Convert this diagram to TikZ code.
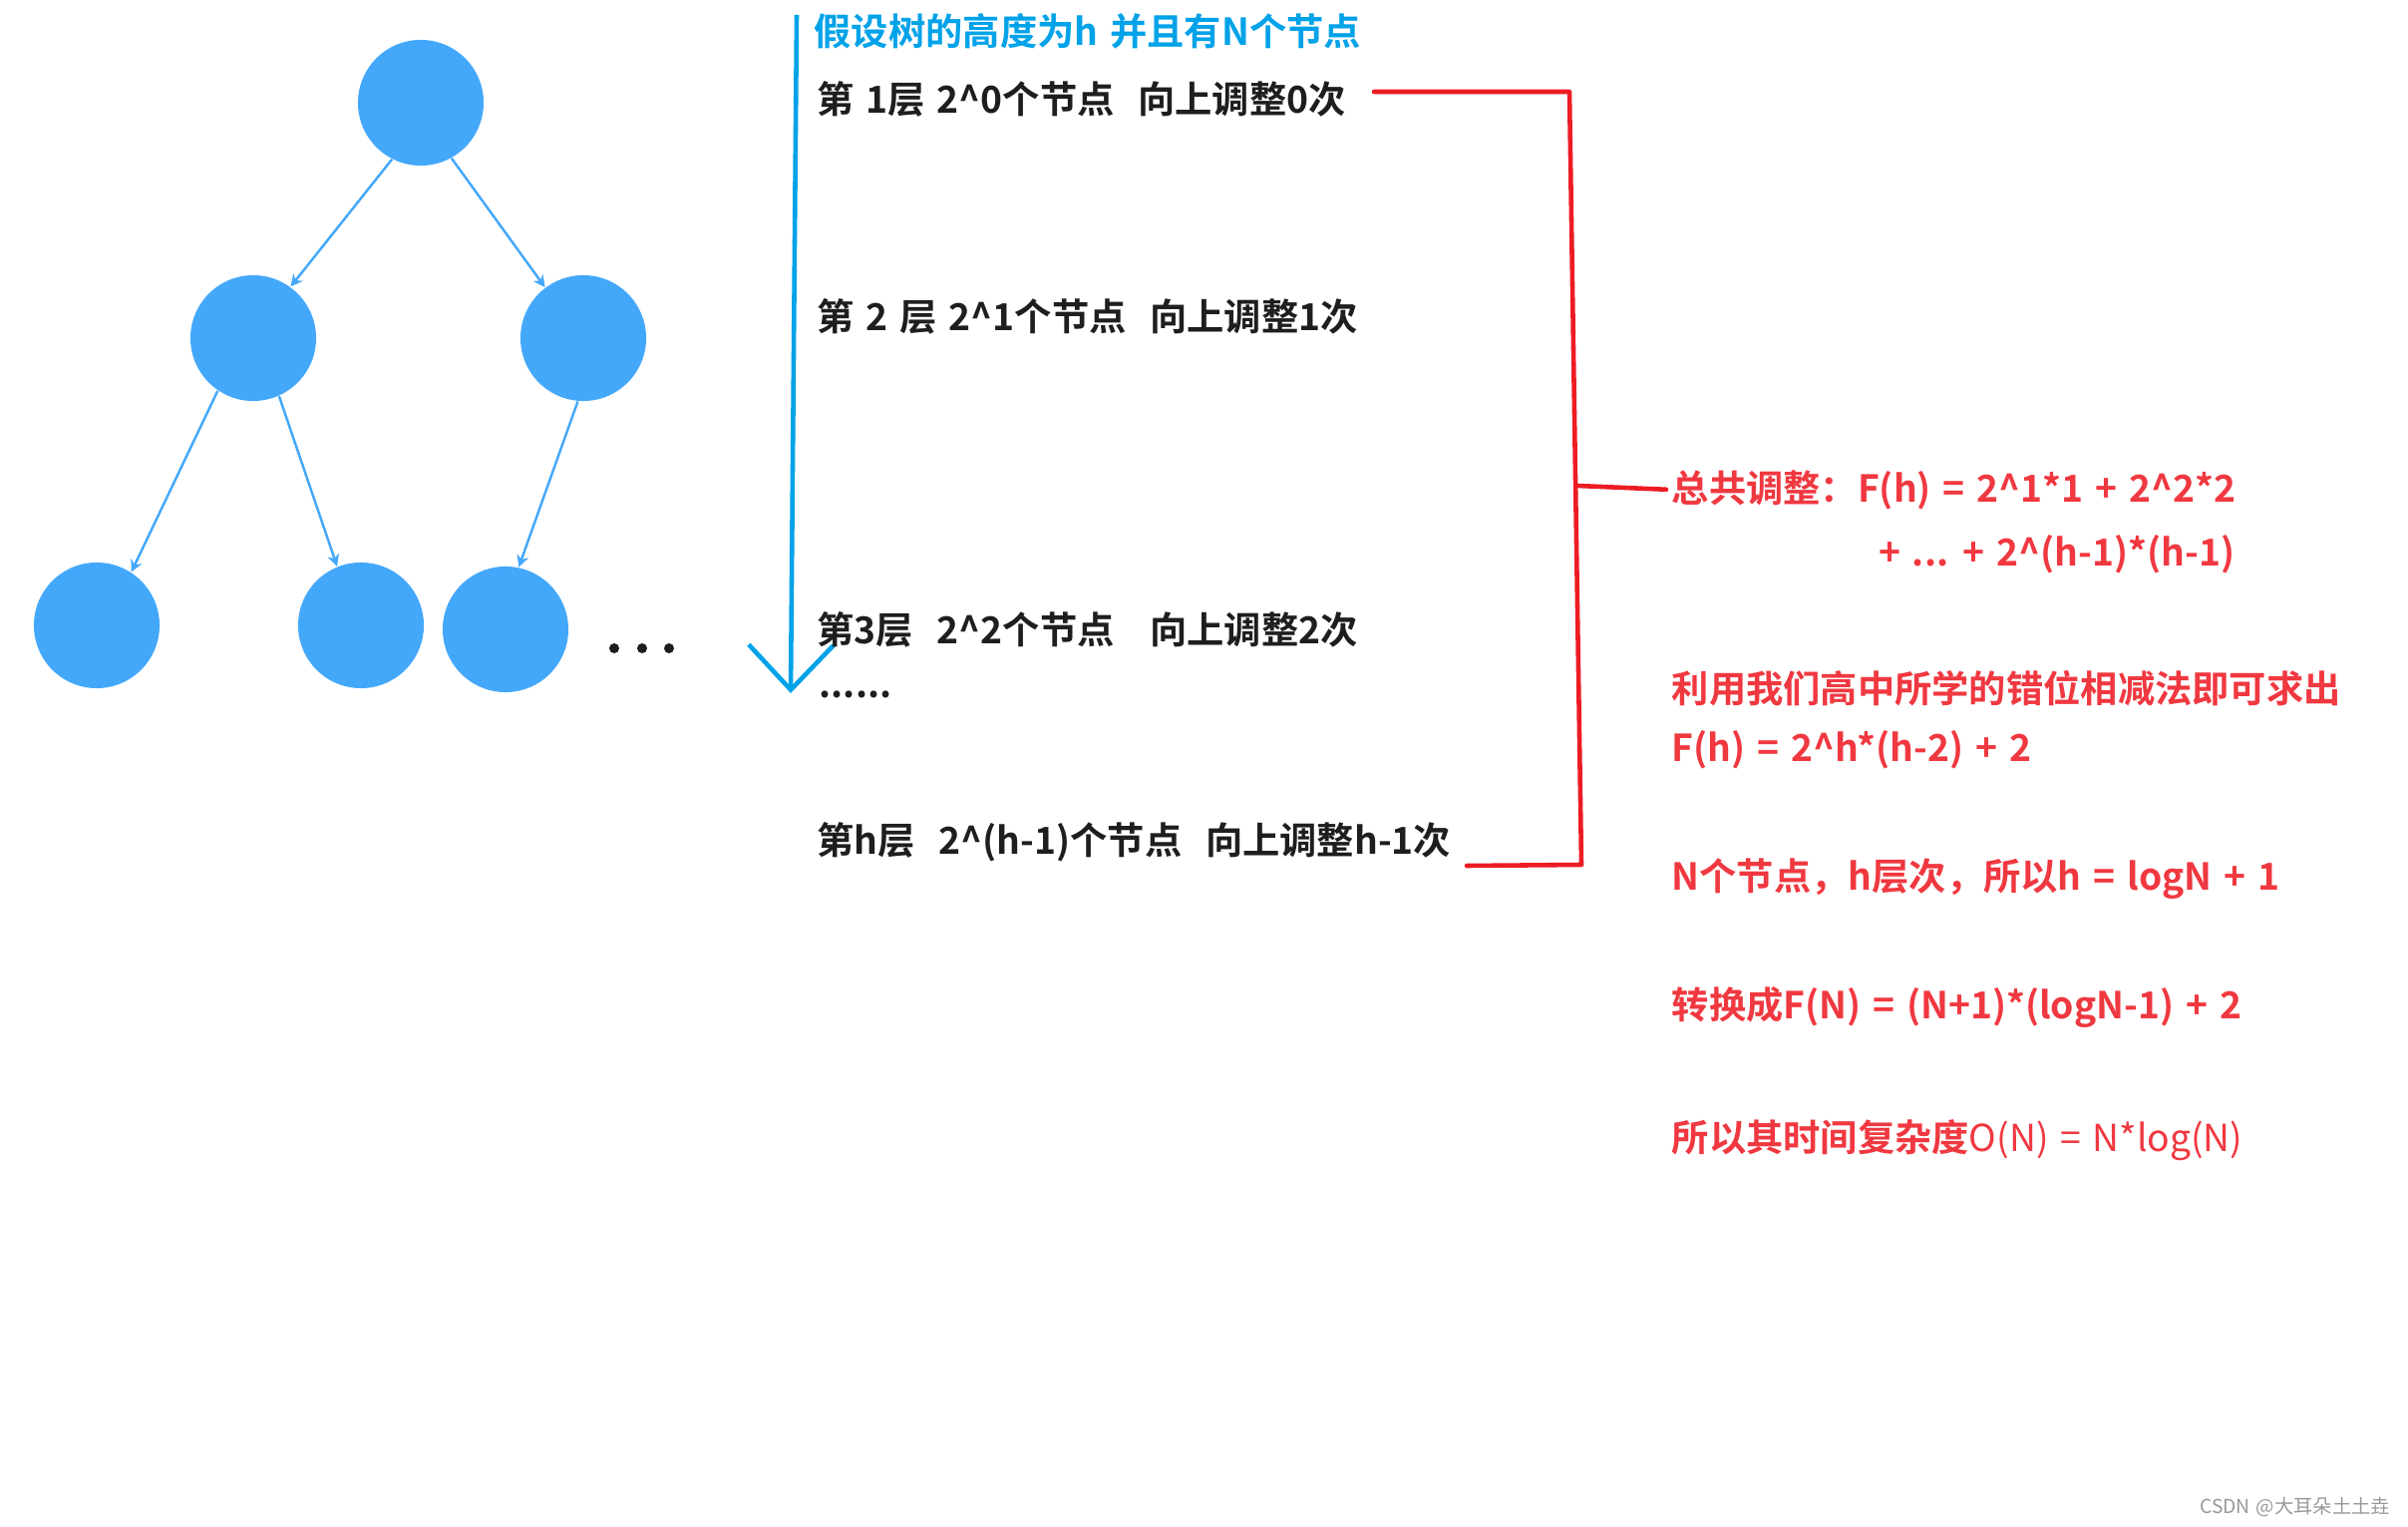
\documentclass[tikz,border=0pt]{standalone}
\usepackage{fontspec}
\setmainfont{Noto Sans CJK SC}[BoldFont={* Bold}, WordSpace=1.4]
\usepackage{xcolor}
\usetikzlibrary{arrows.meta,positioning}
\definecolor{treeblue}{RGB}{68,168,250}
\definecolor{lineblue}{RGB}{0,162,232}
\definecolor{markred}{RGB}{237,28,36}
\definecolor{textred}{RGB}{240,56,64}
\definecolor{textdark}{RGB}{30,30,30}

\begin{document}
\begin{tikzpicture}[
x=0.01cm, y=-0.01cm,
vertex/.style={circle, fill=treeblue, minimum size=1.26cm, inner sep=0pt},
edge/.style={treeblue, line width=0.7pt, -{Stealth[length=1.2mm,width=1.2mm]}},
rowtext/.style={font=\bfseries\fontsize{10.6}{13}\selectfont, text=textdark, anchor=west, inner sep=0pt},
redtext/.style={rowtext, text=textred},
brace/.style={markred, line width=1.3pt, line cap=round, line join=round}
]
\useasboundingbox (0,0) rectangle (2415,1531);

\node[vertex] (root) at (422,103) {};
\node[vertex] (l) at (254,339) {};
\node[vertex] (r) at (585,339) {};
\node[vertex] (ll) at (97,627) {};
\node[vertex] (lr) at (362,627) {};
\node[vertex] (rl) at (507,631) {};
\draw[edge] (root.243) -- (l.54);
\draw[edge] (root.299) -- (r.127);
\draw[edge] (l.236) -- (ll.57);
\draw[edge] (l.294) -- (lr.112);
\draw[edge] (r.265) -- (rl.78);
\foreach \x in {616,644,671} \fill[textdark] (\x,650) circle (0.05cm);

\coordinate (axtop) at (799,15);
\coordinate (axtip) at (793,695);
\draw[lineblue, line width=1.3pt, -{Straight Barb[length=4.5mm,width=8.5mm]}] (axtop) -- (axtip);

\node[rowtext, text=lineblue] (title) at (816,31) {假设树的高度为h 并且有N个节点};
\node[rowtext] (lv1) at (819,99) {第~1层 2\textasciicircum0个节点~~向上调整0次};
\node[rowtext] (lv2) at (819,317) {第~2~层 2\textasciicircum1个节点~~向上调整1次};
\node[rowtext] (lv3) at (819,631) {第3层~~2\textasciicircum2个节点~~~向上调整2次};
\node[rowtext] (more) at (821,696) {......};
\node[rowtext] (lvh) at (819,844) {第h层~~2\textasciicircum(h-1)个节点~~向上调整h-1次};

\node[redtext] (sum) at (1676,491) {总共调整：F(h) = 2\textasciicircum1*1 + 2\textasciicircum2*2};
\node[redtext, anchor=east] (sum2) at (2242,556) {+ ... + 2\textasciicircum(h-1)*(h-1)};
\node[redtext] (note1) at (1676,690) {利用我们高中所学的错位相减法即可求出};
\node[redtext] (res1) at (1676,752) {F(h) = 2\textasciicircum h*(h-2) + 2};
\node[redtext] (note2) at (1676,881) {N个节点，h层次，所以h = logN + 1};
\node[redtext] (res2) at (1676,1010) {转换成F(N) = (N+1)*(logN-1) + 2};
\node[redtext] (res3) at (1676,1143) {所以其时间复杂度{\mdseries O(N) = N*log(N)}};

\coordinate (bt) at (1378,92);
\coordinate (btr) at (1574,92);
\coordinate (bbr) at (1586,867);
\coordinate (bb) at (1471,868);
\coordinate (bm) at (1582,487);
\draw[brace] (bt) -- (btr) -- (bbr) -- (bb);
\draw[brace, shorten >=0.05cm] (bm) -- (sum.west);

\node[font=\fontsize{5.5}{7}\selectfont, text=black!40, anchor=east, inner sep=0pt] (mark) at (2398,1511) {CSDN @大耳朵土土垚};
\end{tikzpicture}
\end{document}
